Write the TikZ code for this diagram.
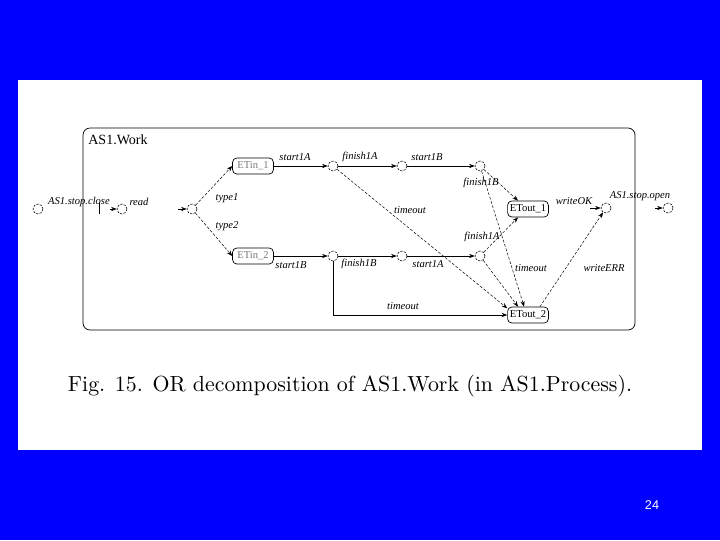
\documentclass[tikz,border=0pt]{standalone}
\usepackage{fontspec}
\usepackage{graphicx}
\usetikzlibrary{arrows.meta,positioning,calc}
\newfontfamily\diafont{Liberation Serif}
\newfontfamily\pagefont{Liberation Sans}
\definecolor{slideblue}{RGB}{0,0,255}
\definecolor{intext}{RGB}{120,120,120}

\begin{document}
\begin{tikzpicture}[x=0.025cm,y=-0.025cm,
    st/.style={circle, draw, line width=0.4pt, dash pattern=on 1.6pt off 0.9pt, minimum size=0.25cm, inner sep=0pt},
    etbox/.style={draw, rounded corners=3pt, line width=0.5pt, minimum width=1.02cm, minimum height=0.4cm, inner sep=1pt, font=\diafont\fontsize{7.5}{8}\selectfont},
    lab/.style={font=\diafont\itshape\fontsize{7.5}{8}\selectfont, inner sep=0pt},
    go/.style={-{Stealth[length=4pt,width=3pt]}, line width=0.5pt},
    tout/.style={-{Stealth[length=4pt,width=3pt]}, line width=0.35pt, dash pattern=on 2pt off 1.2pt}]
    \useasboundingbox (0,0) rectangle (720,540);
    % slide background and white figure panel
    \fill[slideblue] (0,0) rectangle (720,540);
    \fill[white] (18,80) rectangle (702,450);
    % AS1.Work frame
    \draw[line width=0.5pt, rounded corners=5pt] (83,128) rectangle (635,330);
    \node[font=\diafont\fontsize{10}{11}\selectfont, anchor=west, inner sep=0pt] (title) at (88,140) {AS1.Work};
    % outside states
    \node[st] (close) at (38,209) {};
    \node[st] (read) at (122,209) {};
    \node[st] (open) at (606,208) {};
    \node[st] (done) at (668,208) {};
    \draw[line width=0.5pt] (99,203) -- (99,214);
    % inner states
    \node[st] (split) at (192,209) {};
    \node[etbox, text=intext] (in1) at (253,166) {ETin\_1};
    \node[etbox, text=intext] (in2) at (253,256) {ETin\_2};
    \node[st] (a1) at (333,166) {};
    \node[st] (a2) at (402,166) {};
    \node[st] (a3) at (480,166) {};
    \node[st] (b1) at (333,256) {};
    \node[st] (b2) at (402,256) {};
    \node[st] (b3) at (480,256) {};
    \node[etbox] (out1) at (528,209) {ETout\_1};
    \node[etbox] (out2) at (528,315) {ETout\_2};
    % arrow stubs
    \coordinate (readin) at (110,209);
    \coordinate (splitin) at (178,209);
    \coordinate (okin) at (590,208);
    \coordinate (donein) at (655,208);
    \draw[go] (readin) -- (read);
    \draw[go] (splitin) -- (split);
    \draw[go] (okin) -- (open);
    \draw[go] (donein) -- (done);
    % upper branch
    \draw[tout] (split) -- (in1.west);
    \draw[tout] (split) -- (in2.west);
    \draw[go] (in1) -- (a1);
    \draw[go] (a1) -- (a2);
    \draw[go] (a2) -- (a3);
    \draw[tout] (a3) -- (out1.140);
    % lower branch
    \draw[go] (in2) -- (b1);
    \draw[go] (b1) -- (b2);
    \draw[go] (b2) -- (b3);
    \draw[tout] (b3) -- (out1.220);
    % timeouts
    \draw[tout] (a1) -- (out2.162);
    \draw[tout] (a3) -- (out2.115);
    \draw[tout] (b3) -- (out2.140);
    \draw[go] (b1.south) |- (out2.west);
    \draw[tout] (out2.35) -- (open);
    % labels
    \node[lab] (lclose) at (79,202) {AS1.stop.close};
    \node[lab] (lread) at (139,202) {read};
    \node[lab] (ltype1) at (227,198) {type1};
    \node[lab] (ltype2) at (227,226) {type2};
    \node[lab] (ls1a) at (295,157) {start1A};
    \node[lab] (lf1a) at (360,157) {finish1A};
    \node[lab] (ls1b) at (427,157) {start1B};
    \node[lab] (lf1b) at (481,183) {finish1B};
    \node[lab] (lto1) at (410,210) {timeout};
    \node[lab] (ls1b2) at (291,265) {start1B};
    \node[lab] (lf1b2) at (359,264) {finish1B};
    \node[lab] (ls1a2) at (428,264) {start1A};
    \node[lab] (lf1a2) at (482,237) {finish1A};
    \node[lab] (lto2) at (531,268) {timeout};
    \node[lab] (lto3) at (403,306) {timeout};
    \node[lab] (lok) at (574,201) {writeOK};
    \node[lab] (lerr) at (604,268) {writeERR};
    \node[lab] (lopen) at (640,196) {AS1.stop.open};
    % caption and page number
    \node[inner sep=0pt] (caption) at (350,386) {\resizebox{14.1cm}{!}{Fig. 15. OR decomposition of AS1.Work (in AS1.Process).}};
    \node[text=white, font=\pagefont\fontsize{9}{10}\selectfont] (page) at (652,505) {24};
\end{tikzpicture}
\end{document}
